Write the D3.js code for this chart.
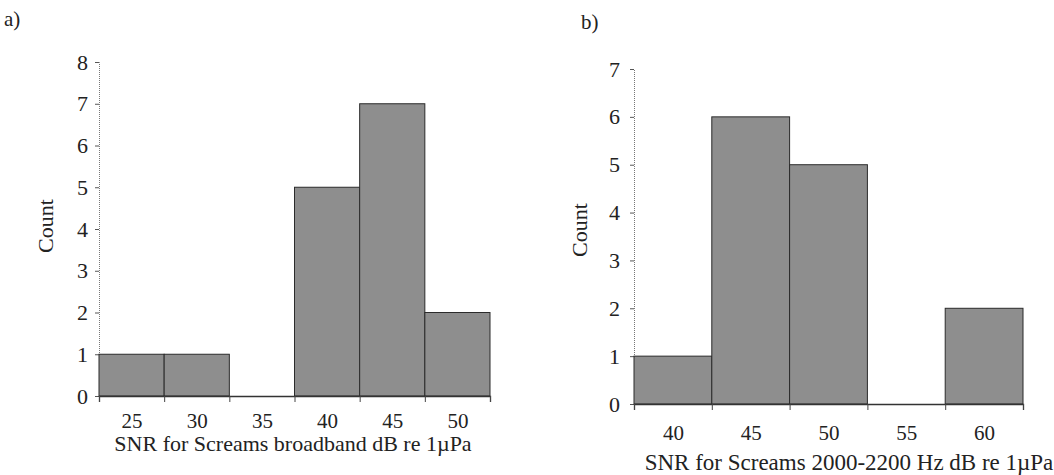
<!DOCTYPE html>
<html>
<head>
<meta charset="utf-8">
<script src="https://cdn.jsdelivr.net/npm/d3@7"></script>
<style>
  body { margin: 0; background: #fff; }
</style>
</head>
<body>
<div id="chart"></div>
<script>
// panel a: broadband SNR histogram
const binsA = [25, 30, 35, 40, 45, 50];
const countsA = [1, 1, 0, 5, 7, 2];
const yTicksA = [0, 1, 2, 3, 4, 5, 6, 7, 8];
const titleA = 'SNR for Screams broadband dB re 1\u00b5Pa';

// panel b: 2000-2200 Hz SNR histogram
const binsB = [40, 45, 50, 55, 60];
const countsB = [1, 6, 5, 0, 2];
const yTicksB = [0, 1, 2, 3, 4, 5, 6, 7];
const titleB = 'SNR for Screams 2000-2200 Hz dB re 1\u00b5Pa';

const binW = 5;
const serif = '"Liberation Serif", "DejaVu Serif", serif';

const svg = d3.select('#chart').append('svg')
    .attr('width', 1054)
    .attr('height', 475)
    .style('font-family', serif);

function drawHist(opt) {
    const lo = opt.bins[0] - binW / 2;
    const hi = opt.bins[opt.bins.length - 1] + binW / 2;
    const edges = d3.range(opt.bins.length + 1).map(i => lo + i * binW);

    const x = d3.scaleLinear().domain([lo, hi]).range([opt.x0, opt.x1]);
    const y = d3.scaleLinear().domain([0, opt.ymax]).range([opt.y0, opt.y1]);

    const g = svg.append('g');

    // y axis, thin dotted line
    const ya = g.append('g')
        .attr('transform', `translate(${opt.x0},0)`)
        .call(d3.axisLeft(y).tickValues(opt.yTicks).tickSize(4).tickPadding(opt.yPad).tickFormat(d3.format('d')));
    ya.attr('font-family', null);
    ya.select('.domain').attr('stroke', '#777').attr('stroke-dasharray', '1,1');
    ya.selectAll('.tick line').attr('stroke', '#555');
    ya.selectAll('text').style('font-family', serif).style('font-size', '22px').attr('fill', '#222');

    // bars
    g.selectAll('.bar')
        .data(opt.bins.map((b, i) => ({ b: b, c: opt.counts[i] })))
        .enter().append('rect')
        .attr('class', 'bar')
        .attr('x', d => x(d.b - binW / 2))
        .attr('width', d => x(d.b + binW / 2) - x(d.b - binW / 2))
        .attr('y', d => y(d.c))
        .attr('height', d => y(0) - y(d.c))
        .attr('fill', '#8e8e8e')
        .attr('stroke', '#2b2b2b')
        .attr('stroke-width', 1);

    // x axis: tick marks at bin edges
    const xa = g.append('g')
        .attr('transform', `translate(0,${opt.y0})`)
        .call(d3.axisBottom(x).tickValues(edges).tickSize(6).tickFormat(''));
    xa.select('.domain').attr('stroke', '#333').attr('stroke-width', 1.3);
    xa.selectAll('.tick line').attr('stroke', '#444');

    // x labels at bin centres
    const xl = g.append('g')
        .attr('transform', `translate(0,${opt.y0})`)
        .call(d3.axisBottom(x).tickValues(opt.bins).tickSize(0).tickPadding(opt.xPad).tickFormat(d3.format('d')));
    xl.attr('font-family', null);
    xl.select('.domain').remove();
    xl.selectAll('text').style('font-family', serif).style('font-size', '21px').attr('fill', '#222');

    // axis titles
    g.append('text')
        .attr('x', opt.titleX)
        .attr('y', opt.titleY)
        .attr('text-anchor', 'middle')
        .attr('fill', '#222')
        .style('font-size', opt.titleSize)
        .text(opt.title);

    g.append('text')
        .attr('transform', `translate(${opt.countX},${opt.countY}) rotate(-90)`)
        .attr('text-anchor', 'middle')
        .attr('fill', '#222')
        .style('font-size', '22px')
        .text('Count');

    g.append('text')
        .attr('x', opt.tagX)
        .attr('y', opt.tagY)
        .attr('fill', '#222')
        .style('font-size', '21px')
        .text(opt.tag);
}

drawHist({
    bins: binsA, counts: countsA, yTicks: yTicksA, ymax: 8, title: titleA, tag: 'a)',
    x0: 99, x1: 490, y0: 396, y1: 62, yPad: 7, xPad: 17,
    titleX: 293, titleY: 451, titleSize: '22px', countX: 53, countY: 226, tagX: 4, tagY: 26
});

drawHist({
    bins: binsB, counts: countsB, yTicks: yTicksB, ymax: 7, title: titleB, tag: 'b)',
    x0: 634, x1: 1023, y0: 404, y1: 69, yPad: 10, xPad: 21,
    titleX: 849, titleY: 470, titleSize: '23px', countX: 587, countY: 230, tagX: 581, tagY: 29
});
</script>
</body>
</html>
